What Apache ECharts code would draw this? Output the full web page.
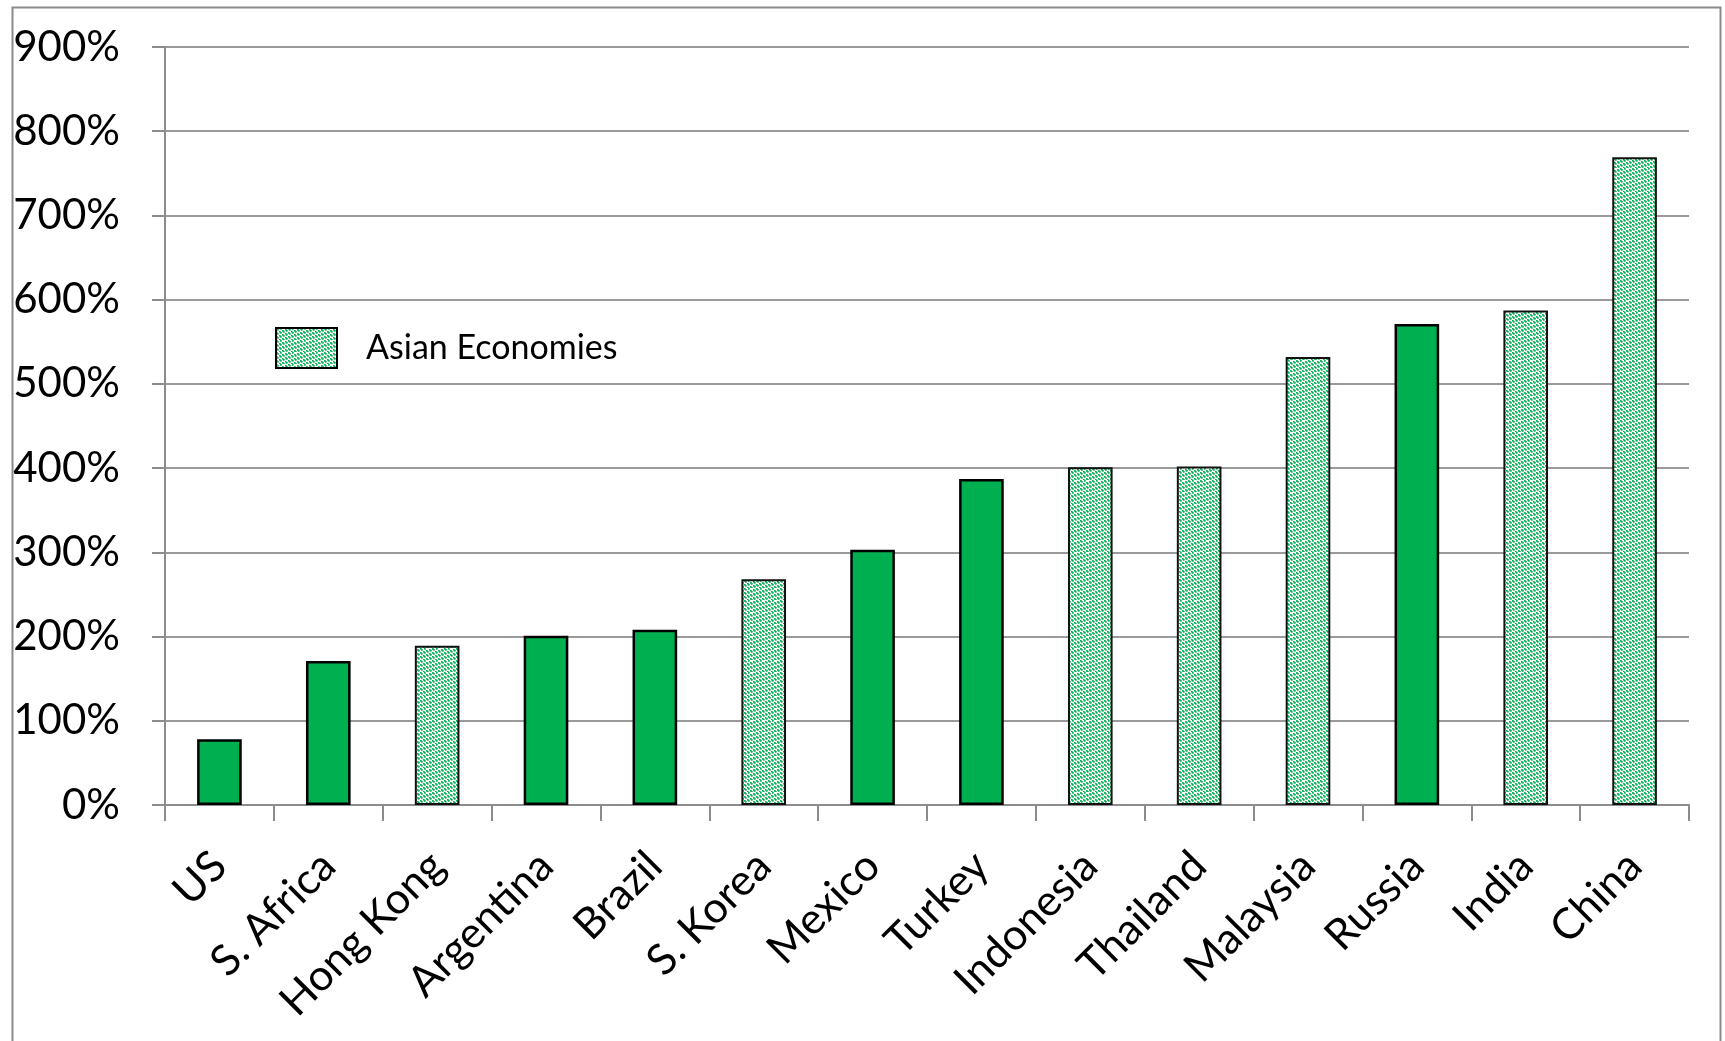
<!DOCTYPE html>
<html>
<head>
<meta charset="utf-8">
<style>
  html, body { margin: 0; padding: 0; background: #fff; }
  #chart { width: 1725px; height: 1041px; }
</style>
<script src="https://cdn.jsdelivr.net/npm/echarts@6/dist/echarts.min.js"></script>
</head>
<body>
<div id="chart"></div>
<script>
// Countries, ordered by value
const categories = ['US', 'S. Africa', 'Hong Kong', 'Argentina', 'Brazil', 'S. Korea', 'Mexico',
  'Turkey', 'Indonesia', 'Thailand', 'Malaysia', 'Russia', 'India', 'China'];
// Values in percent
const values = [78, 171, 189, 201, 208, 268, 303, 387, 401, 402, 532, 571, 587, 769];
// Which countries are Asian economies (drawn hatched)
const asian = [false, false, true, false, false, true, false, false, true, true, true, false, true, true];
const yTicks = [0, 100, 200, 300, 400, 500, 600, 700, 800, 900];

const GREEN = '#00B050';
const FONT = 'Lato, "Open Sans", sans-serif';

// Dotted downward-diagonal hatch tile
function hatchTile() {
  const c = document.createElement('canvas');
  c.width = 12; c.height = 12;
  const ctx = c.getContext('2d');
  ctx.fillStyle = '#ffffff';
  ctx.fillRect(0, 0, 12, 12);
  ctx.fillStyle = GREEN;
  for (let y = 0; y < 12; y++) {
    for (let x = 0; x < 12; x++) {
      if (((x - y) % 4 + 4) % 4 === 0 && x % 3 !== 2) ctx.fillRect(x, y, 1.7, 1.7);
    }
  }
  return c;
}
const hatch = { image: hatchTile(), repeat: 'repeat' };

const otherData = values.map((v, i) => asian[i] ? '-' : v);
const asianData = values.map((v, i) => asian[i] ? v : '-');

const chart = echarts.init(document.getElementById('chart'), null, { renderer: 'canvas' });
chart.setOption({
  animation: false,
  backgroundColor: '#fff',
  graphic: [{
    type: 'rect',
    shape: { x: 12.5, y: 7.5, width: 1708, height: 1100 },
    style: { fill: 'none', stroke: '#8a8a8a', lineWidth: 2 },
    silent: true
  }],
  grid: { left: 165, right: 36, top: 47, bottom: 236, containLabel: false },
  legend: {
    data: [{ name: 'Asian Economies', icon: 'rect' }],
    left: 270, top: 322,
    itemWidth: 61, itemHeight: 40,
    itemStyle: { color: hatch, borderColor: '#000', borderWidth: 2 },
    textStyle: { fontFamily: FONT, fontSize: 34, color: '#000', padding: [0, 0, 0, 24] },
    selectedMode: false
  },
  xAxis: {
    type: 'category',
    data: categories,
    axisLine: { lineStyle: { color: '#8c8c8c', width: 2 } },
    axisTick: { show: true, alignWithLabel: false, length: 16, lineStyle: { color: '#8c8c8c', width: 2 } },
    axisLabel: { rotate: 45, fontFamily: FONT, fontSize: 43, color: '#000', margin: 54, interval: 0 }
  },
  yAxis: {
    type: 'value',
    min: 0, max: 900, interval: 100,
    axisLine: { show: true, lineStyle: { color: '#8c8c8c', width: 2 } },
    axisTick: { show: true, length: 13, lineStyle: { color: '#8c8c8c', width: 2 } },
    splitLine: { lineStyle: { color: '#9a9a9a', width: 2 } },
    axisLabel: {
      fontFamily: FONT, fontSize: 42, color: '#000', margin: 45,
      formatter: v => yTicks.includes(v) ? v + '%' : ''
    }
  },
  series: [
    {
      name: 'Other Economies',
      type: 'bar',
      data: otherData,
      barWidth: '41%',
      barGap: '-100%',
      itemStyle: { color: GREEN, borderColor: '#000', borderWidth: 2.5 }
    },
    {
      name: 'Asian Economies',
      type: 'bar',
      data: asianData,
      barWidth: '41%',
      barGap: '-100%',
      itemStyle: { color: hatch, borderColor: '#111', borderWidth: 2 }
    }
  ]
});
</script>
</body>
</html>
